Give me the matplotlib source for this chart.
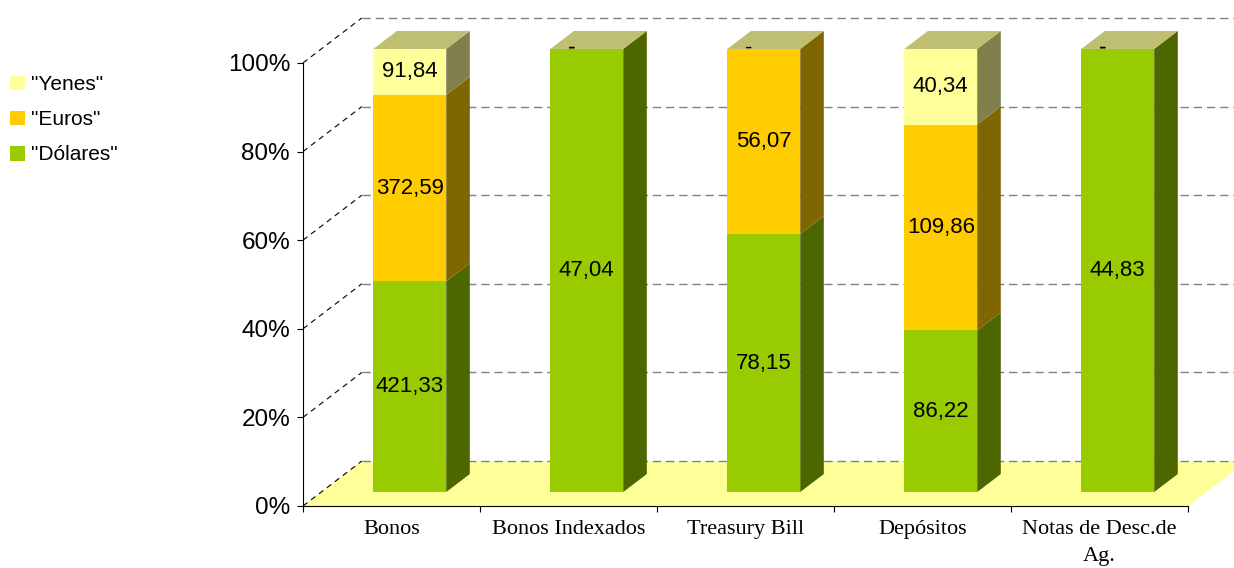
"""Stacked 100% bars with a fake 3D look, currency split per instrument."""

import matplotlib

matplotlib.use("Agg")
import matplotlib.pyplot as plt
import numpy as np
from matplotlib.patches import Patch, Polygon
from matplotlib.ticker import PercentFormatter

categories = ["Bonos", "Bonos Indexados", "Treasury Bill", "Depósitos", "Notas de Desc.de\nAg."]
series = ['"Dólares"', '"Euros"', '"Yenes"']
dolares = [421.33, 47.04, 78.15, 86.22, 44.83]
euros = [372.59, 0.0, 56.07, 109.86, 0.0]
yenes = [91.84, 0.0, 0.0, 40.34, 0.0]

front_colors = ["#99CC00", "#FFCC00", "#FFFF99"]
side_colors = ["#4D6600", "#806600", "#80804D"]
top_color = "#BFBF73"
floor_color = "#FFFF99"

# depth of the floor in data units, bar width and the bar's slice of the depth
DX, DY = 0.333, 10.16
BAR_W = 0.412
D0, D1 = 0.31, 0.71


def proj(x, y, d):
    return (x + d * DX, y + d * DY)


def fmt(v):
    return "-" if v == 0 else f"{v:.2f}".replace(".", ",")


plt.rcParams["font.family"] = ["Liberation Sans", "DejaVu Sans"]

fig = plt.figure(figsize=(12.34, 5.68), dpi=100)
ax = fig.add_axes([0, 0, 1, 1])
ax.set_xlim(-2.212, 4.760)
ax.set_ylim(-14.0, 114.2)

n = len(categories)
left, right = -0.5, n - 0.5

floor = Polygon([proj(left, 0, 0), proj(right, 0, 0), proj(right, 0, 1), proj(left, 0, 1)],
                closed=True, facecolor=floor_color, edgecolor="none", zorder=1)
ax.add_patch(floor)

for v in range(0, 101, 20):
    ax.plot([left, left + DX], [v, v + DY], color="black", lw=0.8,
            dashes=(5, 4), zorder=2)
    ax.plot([left + DX, right + DX + 1], [v + DY, v + DY], color="#808080", lw=1.0,
            dashes=(6, 3.5), zorder=2)

values = np.array([dolares, euros, yenes])
totals = values.sum(axis=0)
pct = values / totals * 100

for i in range(n):
    x0, x1 = i - BAR_W / 2, i + BAR_W / 2
    bottom = 0.0
    for j in range(len(series)):
        top = bottom + pct[j, i]
        front = Polygon([proj(x0, bottom, D0), proj(x1, bottom, D0),
                         proj(x1, top, D0), proj(x0, top, D0)],
                        facecolor=front_colors[j], edgecolor="none", zorder=3)
        side = Polygon([proj(x1, bottom, D0), proj(x1, bottom, D1),
                        proj(x1, top, D1), proj(x1, top, D0)],
                       facecolor=side_colors[j], edgecolor="none", zorder=3)
        ax.add_patch(front)
        ax.add_patch(side)
        if values[j, i] == 0:
            tx, ty = proj(i - 0.085, 100, D0)
            ax.text(tx, ty + 0.2, "-", ha="center", va="center", fontsize=16, zorder=5)
        else:
            tx, ty = proj(i, (bottom + top) / 2, D0)
            ax.text(tx, ty, fmt(values[j, i]), ha="center", va="center", fontsize=16, zorder=5)
        bottom = top
    lid = Polygon([proj(x0, 100, D0), proj(x1, 100, D0), proj(x1, 100, D1), proj(x0, 100, D1)],
                  facecolor=top_color, edgecolor="none", zorder=3)
    ax.add_patch(lid)

for s in ("top", "right"):
    ax.spines[s].set_visible(False)
ax.spines["left"].set_position(("data", left))
ax.spines["left"].set_bounds(0, 100)
ax.spines["bottom"].set_position(("data", 0))
ax.spines["bottom"].set_bounds(left, right)
for s in ("left", "bottom"):
    ax.spines[s].set_linewidth(0.8)
    ax.spines[s].set_zorder(4)

ax.set_yticks(np.arange(0, 101, 20))
ax.yaxis.set_major_formatter(PercentFormatter(decimals=0))
ax.tick_params(axis="y", direction="out", length=4.3, width=0.8, pad=5, labelsize=17.5)

ax.set_xticks(np.arange(left, right + 0.01, 1))
ax.set_xticklabels([])
ax.set_xticks(range(n), minor=True)
ax.set_xticklabels(categories, minor=True, fontfamily="Liberation Serif", fontsize=16,
                   linespacing=1.55)
ax.tick_params(axis="x", which="major", direction="out", length=4.3, width=0.8)
ax.tick_params(axis="x", which="minor", length=0, pad=10)

handles = [Patch(facecolor=front_colors[j], edgecolor="none", label=series[j])
           for j in reversed(range(len(series)))]
fig.legend(handles=handles, loc="upper left", bbox_to_anchor=(0.0, 1 - 65 / 568),
           frameon=False, fontsize=15, handlelength=0.7, handleheight=0.7,
           handletextpad=0.3, labelspacing=0.77, borderaxespad=0.1)

fig.savefig("out.png", dpi=100)
